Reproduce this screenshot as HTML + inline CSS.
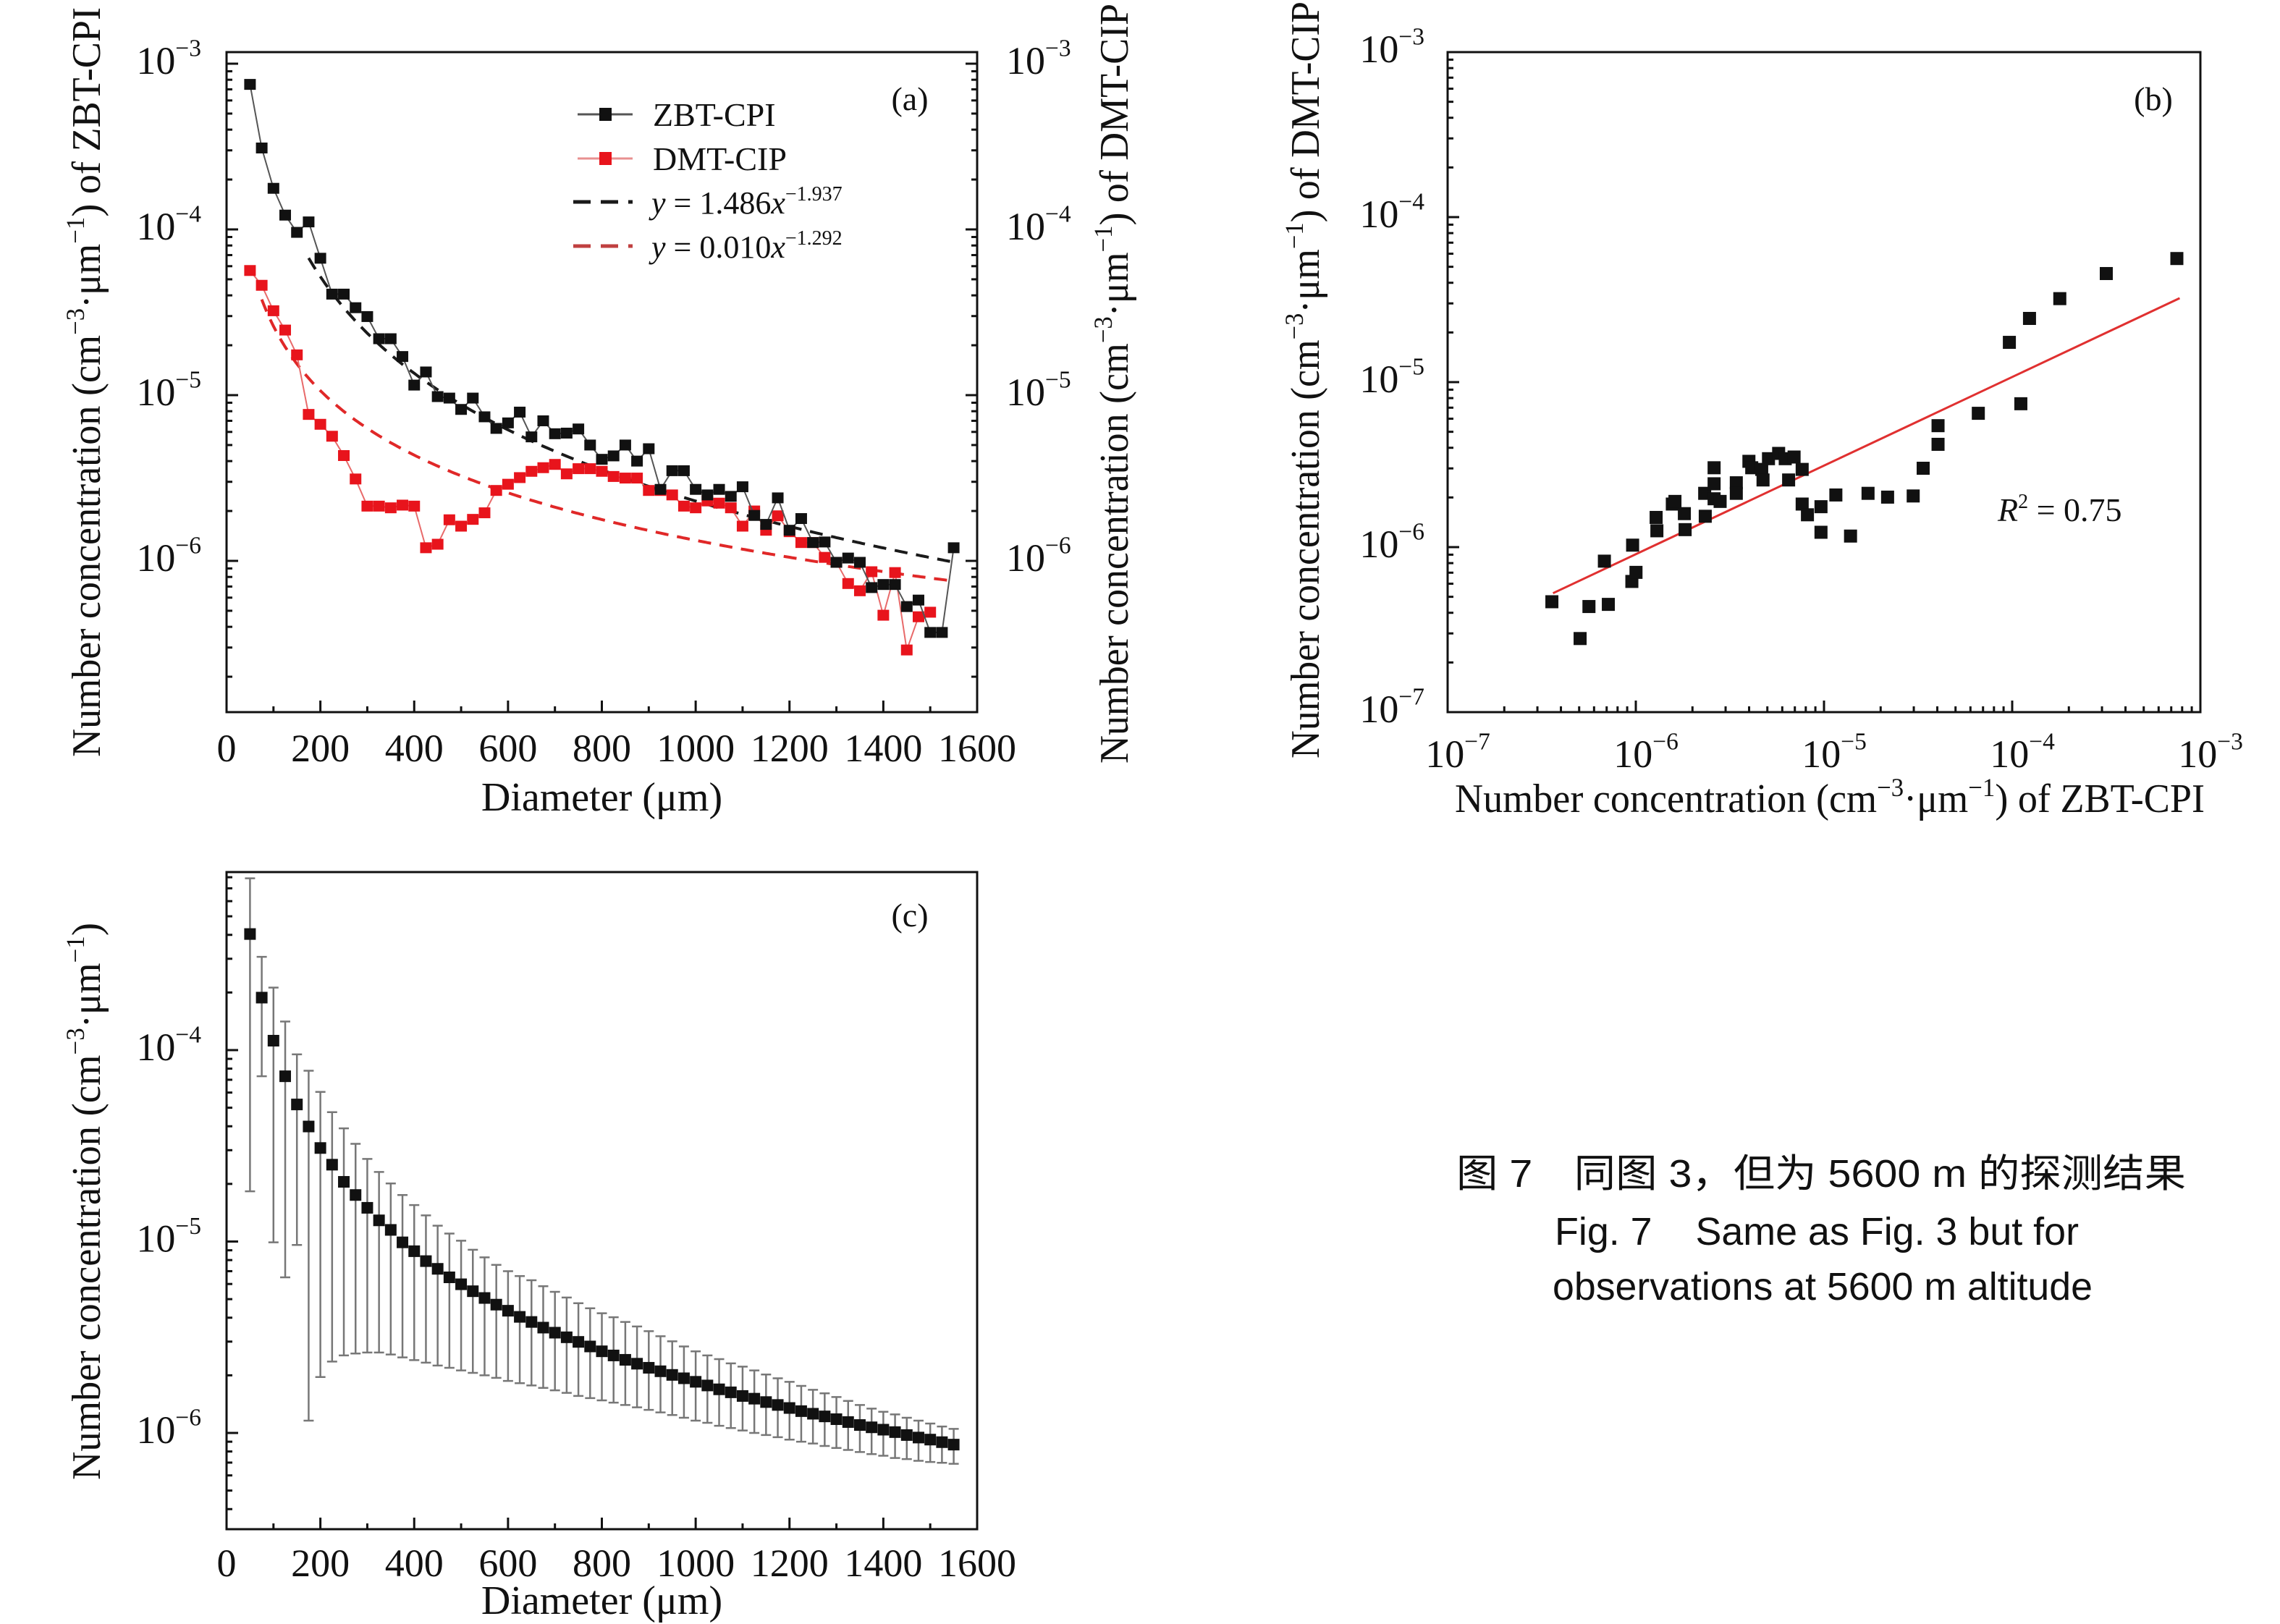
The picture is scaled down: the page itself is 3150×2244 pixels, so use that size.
<!DOCTYPE html>
<html><head><meta charset="utf-8"><style>
html,body{margin:0;padding:0;background:#fff;}
svg{display:block;}
text{font-family:"Liberation Serif","Noto Serif CJK SC",serif;fill:#111;}
.cap{font-family:"Liberation Sans","Noto Sans CJK SC",sans-serif;}
</style></head><body>
<svg id="fig" xmlns="http://www.w3.org/2000/svg" width="3150" height="2244" viewBox="0 0 3150 2244">
<g id="pa"></g>
<g id="pb"></g>
<g id="pc"></g>
<g>
<text class="cap" x="2516" y="1640" text-anchor="middle" font-size="54" textLength="1008" lengthAdjust="spacingAndGlyphs">图 7　同图 3，但为 5600 m 的探测结果</text>
<text class="cap" x="2510" y="1720" text-anchor="middle" font-size="54" textLength="724" lengthAdjust="spacingAndGlyphs">Fig. 7&#160;&#160;&#160;&#160;Same as Fig. 3 but for</text>
<text class="cap" x="2518" y="1796" text-anchor="middle" font-size="54" textLength="746" lengthAdjust="spacingAndGlyphs">observations at 5600 m altitude</text>
</g>
</svg>
<script>
// ---------- Panel (a) data ----------
const aDiam0 = 50, aDiamStep = 25;
const aZbt = [7.5e-4,3.1e-4,1.77e-4,1.22e-4,9.6e-5,1.11e-4,6.7e-5,4.07e-5,4.07e-5,3.37e-5,2.98e-5,2.19e-5,2.19e-5,1.71e-5,1.15e-5,1.38e-5,9.8e-6,9.6e-6,8.2e-6,9.6e-6,7.4e-6,6.3e-6,6.8e-6,7.9e-6,5.6e-6,7.0e-6,5.85e-6,5.9e-6,6.25e-6,5.0e-6,4.1e-6,4.3e-6,5.0e-6,4.0e-6,4.75e-6,2.7e-6,3.5e-6,3.5e-6,2.7e-6,2.5e-6,2.7e-6,2.45e-6,2.8e-6,1.88e-6,1.66e-6,2.4e-6,1.53e-6,1.8e-6,1.29e-6,1.3e-6,9.8e-7,1.04e-6,9.8e-7,6.9e-7,7.2e-7,7.2e-7,5.3e-7,5.8e-7,3.7e-7,3.7e-7,1.2e-6];
const aDmt = [5.65e-5,4.6e-5,3.23e-5,2.47e-5,1.75e-5,7.65e-6,6.67e-6,5.65e-6,4.32e-6,3.12e-6,2.14e-6,2.14e-6,2.09e-6,2.17e-6,2.14e-6,1.2e-6,1.26e-6,1.77e-6,1.62e-6,1.78e-6,1.95e-6,2.66e-6,2.9e-6,3.18e-6,3.47e-6,3.65e-6,3.82e-6,3.35e-6,3.6e-6,3.6e-6,3.47e-6,3.23e-6,3.16e-6,3.16e-6,2.66e-6,2.66e-6,2.5e-6,2.14e-6,2.09e-6,2.3e-6,2.23e-6,2.09e-6,1.62e-6,2.0e-6,1.53e-6,1.87e-6,1.5e-6,1.29e-6,1.29e-6,1.05e-6,9.8e-7,7.3e-7,6.6e-7,8.6e-7,4.7e-7,8.5e-7,2.9e-7,4.6e-7,4.9e-7];
const aFitZbt = [1.486, -1.937, 175, 1550];   // coef, exponent, from, to
const aFitDmt = [0.010, -1.292, 75, 1550];
const aXTicks = [0,200,400,600,800,1000,1200,1400,1600];
const aYTickExp = [-3,-4,-5,-6];

// ---------- Panel (b) data (log10 values) ----------
const bXLog = [-6.446,-6.296,-6.249,-6.146,-6.167,-6.021,-6.017,-5.999,-5.892,-5.888,-5.806,-5.792,-5.742,-5.738,-5.631,-5.634,-5.584,-5.584,-5.584,-5.552,-5.466,-5.466,-5.399,-5.384,-5.331,-5.324,-5.295,-5.241,-5.206,-5.188,-5.159,-5.116,-5.116,-5.088,-5.016,-5.016,-4.937,-4.859,-4.766,-4.662,-4.526,-4.473,-4.394,-4.394,-4.180,-4.015,-3.954,-3.908,-3.747,-3.500,-3.125];
const bYLog = [-6.331,-6.554,-6.360,-6.347,-6.085,-6.208,-5.988,-6.153,-5.820,-5.901,-5.739,-5.723,-5.797,-5.894,-5.813,-5.674,-5.519,-5.616,-5.707,-5.723,-5.610,-5.674,-5.480,-5.519,-5.529,-5.593,-5.464,-5.432,-5.464,-5.593,-5.454,-5.529,-5.739,-5.804,-5.755,-5.910,-5.684,-5.933,-5.674,-5.697,-5.690,-5.522,-5.377,-5.264,-5.189,-4.759,-5.131,-4.614,-4.494,-4.342,-4.251];
const bFit = [-2.821, 0.537, -6.44, -3.11]; // intercept(log), slope, xlog from, xlog to
const bTickExp = [-7,-6,-5,-4,-3];

// ---------- Panel (c) data ----------
const cDiam0 = 50, cDiamStep = 25;
const cMean = [4.04e-4,1.88e-4,1.12e-4,7.3e-5,5.2e-5,3.99e-5,3.08e-5,2.52e-5,2.05e-5,1.75e-5,1.50e-5,1.29e-5,1.15e-5,9.9e-6,8.9e-6,7.9e-6,7.2e-6,6.5e-6,5.98e-6,5.5e-6,5.07e-6,4.68e-6,4.35e-6,4.04e-6,3.80e-6,3.55e-6,3.34e-6,3.16e-6,2.99e-6,2.83e-6,2.67e-6,2.54e-6,2.41e-6,2.30e-6,2.19e-6,2.10e-6,2.01e-6,1.93e-6,1.85e-6,1.77e-6,1.69e-6,1.63e-6,1.56e-6,1.51e-6,1.45e-6,1.40e-6,1.35e-6,1.30e-6,1.26e-6,1.22e-6,1.18e-6,1.14e-6,1.10e-6,1.07e-6,1.04e-6,1.01e-6,9.75e-7,9.46e-7,9.23e-7,8.95e-7,8.69e-7];
const cUpper = [7.9e-4,3.07e-4,2.12e-4,1.41e-4,9.5e-5,7.8e-5,6.05e-5,4.74e-5,3.9e-5,3.24e-5,2.7e-5,2.31e-5,2.01e-5,1.75e-5,1.55e-5,1.37e-5,1.21e-5,1.10e-5,1.01e-5,9.06e-6,8.27e-6,7.55e-6,7.0e-6,6.6e-6,6.28e-6,5.84e-6,5.46e-6,5.1e-6,4.76e-6,4.48e-6,4.22e-6,4.02e-6,3.80e-6,3.6e-6,3.4e-6,3.2e-6,3.01e-6,2.83e-6,2.67e-6,2.54e-6,2.43e-6,2.31e-6,2.22e-6,2.12e-6,2.02e-6,1.93e-6,1.85e-6,1.76e-6,1.68e-6,1.61e-6,1.54e-6,1.47e-6,1.40e-6,1.34e-6,1.29e-6,1.25e-6,1.20e-6,1.16e-6,1.12e-6,1.08e-6,1.05e-6];
const cLower = [1.83e-5,7.3e-5,9.9e-6,6.5e-6,9.6e-6,1.16e-6,1.96e-6,2.36e-6,2.54e-6,2.6e-6,2.63e-6,2.63e-6,2.57e-6,2.48e-6,2.4e-6,2.33e-6,2.25e-6,2.19e-6,2.12e-6,2.06e-6,2.0e-6,1.94e-6,1.87e-6,1.82e-6,1.77e-6,1.72e-6,1.67e-6,1.62e-6,1.56e-6,1.52e-6,1.48e-6,1.44e-6,1.40e-6,1.36e-6,1.32e-6,1.28e-6,1.24e-6,1.20e-6,1.16e-6,1.13e-6,1.09e-6,1.06e-6,1.03e-6,1.0e-6,9.75e-7,9.5e-7,9.23e-7,9.0e-7,8.8e-7,8.55e-7,8.35e-7,8.15e-7,7.95e-7,7.75e-7,7.6e-7,7.4e-7,7.3e-7,7.15e-7,7.05e-7,6.98e-7,6.9e-7];
const cYTickExp = [-4,-5,-6];

const NS = "http://www.w3.org/2000/svg";
function mk(parent, tag, attrs, txt){
  const e = document.createElementNS(NS, tag);
  for (const k in attrs) e.setAttribute(k, attrs[k]);
  if (txt !== undefined) e.textContent = txt;
  parent.appendChild(e); return e;
}
function powLabel(parent, x, y, exp, anchor, fs){
  const t = mk(parent, 'text', {x:x, y:y, 'font-size':fs, 'text-anchor':anchor});
  
  
  mk(t, 'tspan', {}, '10');
  mk(t, 'tspan', {dy:-fs*0.45, 'font-size':fs*0.62}, '\u2212' + Math.abs(exp));
  return t;
}
function concLabel(parent, x, y, rot, len, suffix){
  const t = mk(parent, 'text', {x:x, y:y, 'font-size':56, 'text-anchor':'middle', transform:'rotate('+rot+' '+x+' '+y+')', textLength:len, lengthAdjust:'spacingAndGlyphs'});
  
  
  mk(t, 'tspan', {}, 'Number concentration (cm');
  mk(t, 'tspan', {dy:-22, 'font-size':36}, '\u22123');
  mk(t, 'tspan', {dy:22}, '\u00b7\u03bcm');
  mk(t, 'tspan', {dy:-22, 'font-size':36}, '\u22121');
  mk(t, 'tspan', {dy:22}, ')' + suffix);
  return t;
}
function box(g, L, T, R, B){
  const r = mk(g, 'rect', {x:L, y:T, width:R-L, height:B-T, fill:'none', stroke:'#111', 'stroke-width':3});
  
  
}
function logTicksY(g, xAxis, dir, yOf, eLo, eHi, yT, yB){
  for (let e = eLo; e <= eHi; e++){
    for (let m = 1; m <= 9; m++){
      const y = yOf(m * Math.pow(10, e));
      if (y < yT - 0.5 || y > yB + 0.5) continue;
      const len = m === 1 ? 16 : 8;
      const l = mk(g, 'line', {x1:xAxis, x2:xAxis + dir*len, y1:y, y2:y, stroke:'#111', 'stroke-width':3});
      
      
    }
  }
}

// ================= Panel (a) =================
(function(){
  const g = document.getElementById('pa');
  const L=313, R=1350, T=72, B=984;
  const xS = d => L + d * (R-L)/1600;
  const yS = v => 88 + (-3 - Math.log10(v)) * 229;
  box(g, L, T, R, B);
  logTicksY(g, L, 1, yS, -7, -3, T, B);
  logTicksY(g, R, -1, yS, -7, -3, T, B);
  for (let d = 0; d <= 1600; d += 100){
    const l = mk(g, 'line', {x1:xS(d), x2:xS(d), y1:B, y2:B-(d%200===0?16:8), stroke:'#111', 'stroke-width':3});
    
    
  }
  aXTicks.forEach(d => {
    const t = mk(g, 'text', {x:xS(d), y:1052, 'font-size':54, 'text-anchor':'middle'}, String(d));
    
    
  });
  aYTickExp.forEach(e => { powLabel(g, 278, yS(Math.pow(10,e))+14, e, 'end', 54); powLabel(g, 1390, yS(Math.pow(10,e))+14, e, 'start', 54); });
  const xt = mk(g, 'text', {x:(L+R)/2, y:1120, 'font-size':56, 'text-anchor':'middle'}, 'Diameter (\u03bcm)');
  
  
  concLabel(g, 138, 528, -90, 1036, ' of ZBT-CPI');
  concLabel(g, 1558, 530, -90, 1050, ' of DMT-CIP');
  function fitPath(f){
    let d = '';
    for (let x = f[2]; x <= f[3]; x += 5){ d += (d ? 'L' : 'M') + xS(x).toFixed(1) + ' ' + yS(f[0]*Math.pow(x, f[1])).toFixed(1); }
    return d;
  }
  const fz = mk(g, 'path', {d:fitPath(aFitZbt), fill:'none', stroke:'#1a1a1a', 'stroke-width':4, 'stroke-dasharray':'18 12'});
  
  
  const fd = mk(g, 'path', {d:fitPath(aFitDmt), fill:'none', stroke:'#e02828', 'stroke-width':4, 'stroke-dasharray':'18 12'});
  
  
  function series(vals, lineCol, ptCol, name){
    const pts = vals.map((v,i) => [xS(aDiam0 + i*aDiamStep), yS(v)]);
    const pl = mk(g, 'polyline', {points:pts.map(p=>p[0].toFixed(1)+','+p[1].toFixed(1)).join(' '), fill:'none', stroke:lineCol, 'stroke-width':2});
    
    
    pts.forEach(p => {
      const r = mk(g, 'rect', {x:p[0]-8, y:p[1]-7.5, width:16, height:15, fill:ptCol});
      
      
    });
  }
  series(aDmt, '#e86a6a', '#e8141c', 'dmt-cip');
  series(aZbt, '#555', '#111', 'zbt-cpi');
  const lg = mk(g, 'g', {});
  
  
  const ly = [158, 219, 279, 340];
  mk(lg, 'line', {x1:798, x2:874, y1:ly[0], y2:ly[0], stroke:'#555', 'stroke-width':3});
  mk(lg, 'rect', {x:828, y:ly[0]-9, width:17, height:18, fill:'#111'});
  mk(lg, 'line', {x1:798, x2:874, y1:ly[1], y2:ly[1], stroke:'#e89090', 'stroke-width':3});
  mk(lg, 'rect', {x:828, y:ly[1]-9, width:17, height:18, fill:'#e8141c'});
  mk(lg, 'line', {x1:792, x2:874, y1:ly[2], y2:ly[2], stroke:'#1a1a1a', 'stroke-width':5, 'stroke-dasharray':'24 14'});
  mk(lg, 'line', {x1:792, x2:874, y1:ly[3], y2:ly[3], stroke:'#c04040', 'stroke-width':5, 'stroke-dasharray':'24 14'});
  const e1 = mk(lg, 'text', {x:902, y:ly[0]+16, 'font-size':46}, 'ZBT-CPI');
  
  
  const e2 = mk(lg, 'text', {x:902, y:ly[1]+16, 'font-size':46}, 'DMT-CIP');
  
  
  [[ly[2], '1.486', '\u22121.937'], [ly[3], '0.010', '\u22121.292']].forEach(a => {
    const t = mk(lg, 'text', {x:900, y:a[0]+16, 'font-size':44});
    
    
    mk(t, 'tspan', {'font-style':'italic'}, 'y');
    mk(t, 'tspan', {}, ' = ' + a[1]);
    mk(t, 'tspan', {'font-style':'italic'}, 'x');
    mk(t, 'tspan', {dy:-18, 'font-size':28}, a[2]);
  });
  const pl = mk(g, 'text', {x:1257, y:152, 'font-size':46, 'text-anchor':'middle'}, '(a)');
  
  
})();

// ================= Panel (b) =================
(function(){
  const g = document.getElementById('pb');
  const L=2000, R=3040, T=72, B=984;
  const xL = lg => L + (lg + 7) * (R-L)/4;
  const yL = lg => T + (-3 - lg) * (B-T)/4;
  box(g, L, T, R, B);
  logTicksY(g, L, 1, v => yL(Math.log10(v)), -7, -4, T, B);
  for (let e = -7; e <= -4; e++){
    for (let m = 1; m <= 10; m++){
      const x = xL(Math.log10(m*Math.pow(10,e)));
      const l = mk(g, 'line', {x1:x, x2:x, y1:B, y2:B-((m===1||m===10)?16:8), stroke:'#111', 'stroke-width':3});
      
      
    }
  }
  bTickExp.forEach(e => {
    powLabel(g, xL(e)+14, 1060, e, 'middle', 54);
    powLabel(g, 1968, yL(e)+14, e, 'end', 54);
  });
  const xt = mk(g, 'text', {x:2528, y:1122, 'font-size':56, 'text-anchor':'middle', textLength:1036, lengthAdjust:'spacingAndGlyphs'});
  
  
  mk(xt, 'tspan', {}, 'Number concentration (cm');
  mk(xt, 'tspan', {dy:-22, 'font-size':36}, '\u22123');
  mk(xt, 'tspan', {dy:22}, '\u00b7\u03bcm');
  mk(xt, 'tspan', {dy:-22, 'font-size':36}, '\u22121');
  mk(xt, 'tspan', {dy:22}, ') of ZBT-CPI');
  concLabel(g, 1822, 525, -90, 1046, ' of DMT-CIP');
  const fl = mk(g, 'line', {x1:xL(bFit[2]), y1:yL(bFit[0]+bFit[1]*bFit[2]), x2:xL(bFit[3]), y2:yL(bFit[0]+bFit[1]*bFit[3]), stroke:'#e03030', 'stroke-width':3});
  
  
  bXLog.forEach((xv,i) => {
    const r = mk(g, 'rect', {x:xL(xv)-9, y:yL(bYLog[i])-9, width:18, height:18, fill:'#111'});
    
    
  });
  const rt = mk(g, 'text', {x:2760, y:720, 'font-size':46});
  
  
  mk(rt, 'tspan', {'font-style':'italic'}, 'R');
  mk(rt, 'tspan', {dy:-18, 'font-size':28}, '2');
  mk(rt, 'tspan', {dy:18}, ' = 0.75');
  const pl = mk(g, 'text', {x:2975, y:152, 'font-size':46, 'text-anchor':'middle'}, '(b)');
  
  
})();

// ================= Panel (c) =================
(function(){
  const g = document.getElementById('pc');
  const L=313, R=1350, T=1205, B=2113;
  const xS = d => L + d * (R-L)/1600;
  const yS = v => 1451 + (-4 - Math.log10(v)) * 264.5;
  box(g, L, T, R, B);
  logTicksY(g, L, 1, yS, -7, -3, T, B);
  for (let d = 0; d <= 1600; d += 100){
    const l = mk(g, 'line', {x1:xS(d), x2:xS(d), y1:B, y2:B-(d%200===0?16:8), stroke:'#111', 'stroke-width':3});
    
    
  }
  aXTicks.forEach(d => {
    const t = mk(g, 'text', {x:xS(d), y:2178, 'font-size':54, 'text-anchor':'middle'}, String(d));
    
    
  });
  cYTickExp.forEach(e => powLabel(g, 278, yS(Math.pow(10,e))+14, e, 'end', 54));
  const xt = mk(g, 'text', {x:(L+R)/2, y:2230, 'font-size':56, 'text-anchor':'middle'}, 'Diameter (\u03bcm)');
  
  
  concLabel(g, 138, 1660, -90, 770, '');
  cMean.forEach((v,i) => {
    const x = xS(cDiam0 + i*cDiamStep);
    const yu = yS(cUpper[i]), yl = yS(cLower[i]);
    const eb = mk(g, 'path', {d:'M'+x+' '+yu+'V'+yl+'M'+(x-7)+' '+yu+'H'+(x+7)+'M'+(x-7)+' '+yl+'H'+(x+7), stroke:'#777', 'stroke-width':2.5, fill:'none'});
    
    
  });
  cMean.forEach((v,i) => {
    const x = xS(cDiam0 + i*cDiamStep);
    const r = mk(g, 'rect', {x:x-8, y:yS(v)-8, width:16, height:16, fill:'#111'});
    
    
  });
  const pl = mk(g, 'text', {x:1257, y:1280, 'font-size':46, 'text-anchor':'middle'}, '(c)');
  
  
})();
</script>
</body></html>
